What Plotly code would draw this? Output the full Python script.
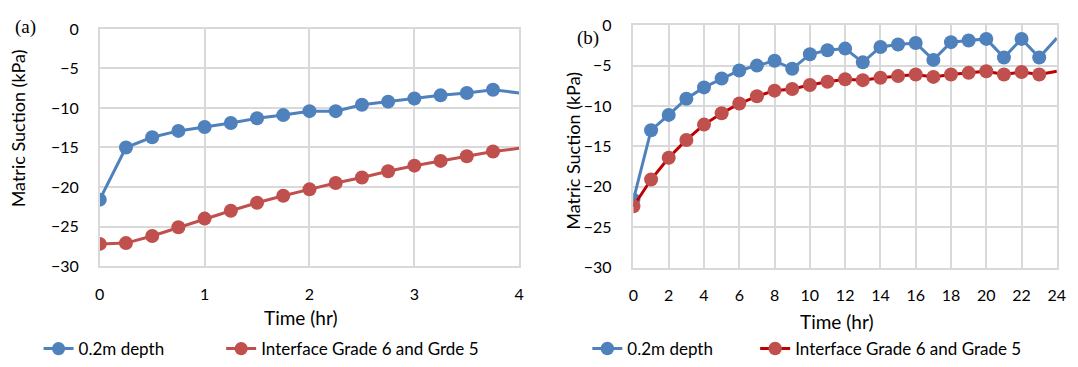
import plotly.graph_objects as go

# Panel (a): 0-4 hr
time_a = [0, 0.25, 0.5, 0.75, 1, 1.25, 1.5, 1.75, 2, 2.25, 2.5, 2.75, 3, 3.25, 3.5, 3.75, 4]
depth_a = [-21.6, -15.0, -13.7, -12.9, -12.4, -11.9, -11.3, -10.9, -10.4, -10.4, -9.6, -9.2, -8.8, -8.4, -8.1, -7.7, -8.1]
interface_a = [-27.2, -27.1, -26.2, -25.1, -24.0, -23.0, -22.0, -21.1, -20.3, -19.5, -18.8, -18.0, -17.3, -16.7, -16.1, -15.5, -15.1]

# Panel (b): 0-24 hr
time_b = list(range(0, 25))
depth_b = [-21.6, -13.0, -11.1, -9.1, -7.7, -6.6, -5.6, -5.0, -4.4, -5.4, -3.6, -3.1, -2.9, -4.6, -2.7, -2.4, -2.2, -4.3,
           -2.1, -1.9, -1.7, -4.0, -1.7, -4.0, -1.6]
interface_b = [-22.4, -19.1, -16.4, -14.2, -12.3, -10.9, -9.7, -8.8, -8.1, -7.9, -7.4, -7.0, -6.7, -6.8, -6.5, -6.3, -6.1,
               -6.4, -6.1, -5.9, -5.7, -6.1, -5.8, -6.1, -5.7]

x_ticks_a = [0, 1, 2, 3, 4]
x_ticks_b = list(range(0, 25, 2))
y_ticks = [-30, -25, -20, -15, -10, -5, 0]

BLUE = "#4F81BD"
RED = "#C0504D"
DARKRED = "#C00000"
GRID = "#D9D9D9"
FONT = "Lato"
W, H = 1078, 367

fig = go.Figure()

def add_series(x, y, name, line_color, marker_color, xa, ya, legend, lw):
    # markers on all but the last (end) point
    sizes = [14] * (len(x) - 1) + [0]
    fig.add_trace(go.Scatter(
        x=x, y=y, name=name, mode="lines+markers", opacity=1,
        line=dict(color=line_color, width=lw),
        marker=dict(color=marker_color, size=sizes, symbol="circle", opacity=1,
                    line=dict(width=0, color=marker_color)),
        xaxis=xa, yaxis=ya, legend=legend, showlegend=True,
    ))

add_series(time_a, depth_a, "0.2m depth", BLUE, BLUE, "x", "y", "legend2", 3)
add_series(time_a, interface_a, "Interface Grade 6 and Grde 5", RED, RED, "x", "y", "legend3", 3)
add_series(time_b, depth_b, "0.2m depth", BLUE, BLUE, "x2", "y2", "legend4", 3)
add_series(time_b, interface_b, "Interface Grade 6 and Grade 5", DARKRED, RED, "x2", "y2", "legend5", 3)

def px_x(p):
    return p / W

def px_y(p):
    return 1 - p / H

axis_common = dict(
    showgrid=True, gridcolor=GRID, gridwidth=1.5,
    showline=True, linecolor=GRID, linewidth=1.5, mirror=True,
    zeroline=False, ticks="", tickfont=dict(family=FONT, size=16, color="#000000"),
)

def legend_at(xpx):
    return dict(orientation="h", x=px_x(xpx), y=px_y(358), xanchor="left", yanchor="middle",
                font=dict(family=FONT, size=17, color="#000000"), bgcolor="rgba(0,0,0,0)")

fig.update_layout(
    width=W, height=H,
    margin=dict(l=0, r=0, t=0, b=0),
    paper_bgcolor="white", plot_bgcolor="white",
    font=dict(family=FONT, color="#000000"),
    xaxis=dict(domain=[px_x(96), px_x(521)], range=[0, 4], tickvals=x_ticks_a, anchor="y",
               ticklabelstandoff=13, **axis_common),
    yaxis=dict(domain=[px_y(270), px_y(20)], range=[-30, 0], tickvals=y_ticks, anchor="x",
               ticklabelstandoff=16, **axis_common),
    xaxis2=dict(domain=[px_x(636.7), px_x(1065.7)], range=[0, 24], tickvals=x_ticks_b, anchor="y2",
                ticklabelstandoff=12, **axis_common),
    yaxis2=dict(domain=[px_y(271.7), px_y(16)], range=[-30, 0], tickvals=y_ticks, anchor="x2",
                ticklabelstandoff=17, **axis_common),
    legend=dict(visible=False),
    legend2=legend_at(34),
    legend3=legend_at(219),
    legend4=legend_at(590),
    legend5=legend_at(760),
    annotations=[
        dict(text="(a)", x=px_x(8), y=px_y(18), xref="paper", yref="paper", showarrow=False,
             xanchor="left", yanchor="middle", font=dict(family="Liberation Serif", size=19)),
        dict(text="(b)", x=px_x(578), y=px_y(30), xref="paper", yref="paper", showarrow=False,
             xanchor="left", yanchor="middle", font=dict(family="Liberation Serif", size=19)),
        dict(text="Time (hr)", x=px_x(300), y=px_y(324), xref="paper", yref="paper", showarrow=False,
             xanchor="center", yanchor="middle", font=dict(family=FONT, size=19)),
        dict(text="Time (hr)", x=px_x(843), y=px_y(328), xref="paper", yref="paper", showarrow=False,
             xanchor="center", yanchor="middle", font=dict(family=FONT, size=19)),
        dict(text="Matric Suction (kPa)", x=px_x(13), y=px_y(125), xref="paper", yref="paper", showarrow=False,
             textangle=-90, xanchor="center", yanchor="middle", font=dict(family=FONT, size=18)),
        dict(text="Matric Suction (kPa)", x=px_x(576), y=px_y(149), xref="paper", yref="paper", showarrow=False,
             textangle=-90, xanchor="center", yanchor="middle", font=dict(family=FONT, size=18)),
    ],
)

fig.write_html("out.html")
